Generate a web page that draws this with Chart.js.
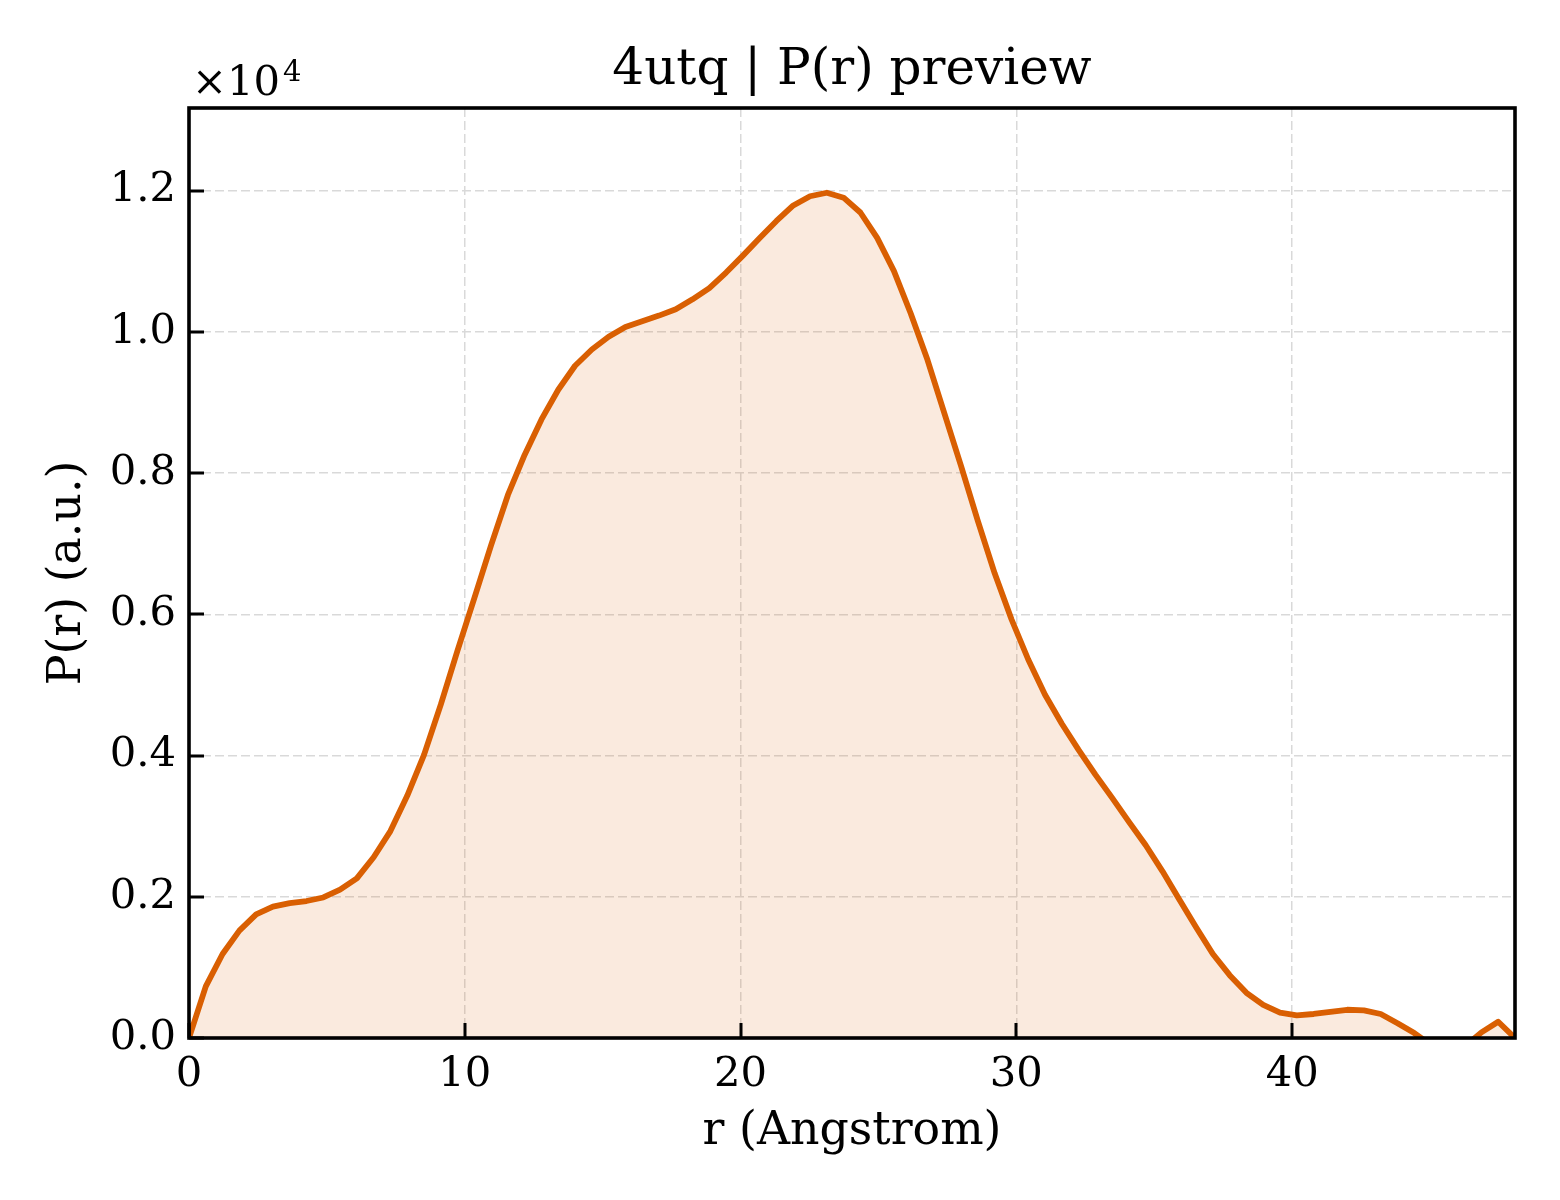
<!DOCTYPE html>
<html>
<head>
<meta charset="utf-8">
<script src="https://cdn.jsdelivr.net/npm/chart.js@4.4.1/dist/chart.umd.min.js"></script>
<style>
html,body{margin:0;padding:0;background:#fff;}
canvas{display:block;}
</style>
</head>
<body>
<canvas id="c" width="1560" height="1200"></canvas>
<script>
// r grid (Angstrom)
const rValues = [0, 0.609, 1.217, 1.826, 2.434, 3.043, 3.652, 4.260, 4.869, 5.477,
  6.086, 6.695, 7.303, 7.912, 8.521, 9.129, 9.738, 10.346, 10.955, 11.564,
  12.172, 12.781, 13.389, 13.998, 14.607, 15.215, 15.824, 16.432, 17.041, 17.650,
  18.258, 18.867, 19.475, 20.084, 20.693, 21.301, 21.910, 22.518, 23.127, 23.736,
  24.344, 24.953, 25.562, 26.170, 26.779, 27.387, 27.996, 28.605, 29.213, 29.822,
  30.430, 31.039, 31.648, 32.256, 32.865, 33.473, 34.082, 34.691, 35.299, 35.908,
  36.516, 37.125, 37.734, 38.342, 38.951, 39.559, 40.168, 40.777, 41.385, 41.994,
  42.603, 43.211, 43.820, 44.428, 45.037, 45.646, 46.254, 46.863, 47.471, 48.080];
// P(r) values (a.u.)
const prValues = [0, 730, 1190, 1520, 1750, 1860, 1910, 1940, 1990, 2100,
  2260, 2560, 2930, 3430, 4010, 4720, 5490, 6230, 6980, 7690,
  8260, 8760, 9180, 9520, 9750, 9930, 10070, 10150, 10230, 10320,
  10460, 10620, 10840, 11080, 11330, 11570, 11790, 11920, 11970, 11900,
  11690, 11330, 10860, 10260, 9600, 8850, 8100, 7320, 6580, 5930,
  5360, 4860, 4450, 4080, 3730, 3400, 3060, 2730, 2360, 1960,
  1570, 1190, 890, 640, 470, 360, 320, 340, 370, 400,
  390, 340, 210, 70, -100, -200, -120, 80, 230, 0];
const xTickValues = [0, 10, 20, 30, 40];
const yTickValues = [0, 2000, 4000, 6000, 8000, 10000, 12000];
const xMax = 48.08;
const yMax = 13170;

const titleText = '4utq | P(r) preview';
const xLabel = 'r (Angstrom)';
const yLabel = 'P(r) (a.u.)';
const FONT = '"DejaVu Serif", serif';

const decor = {
  id: 'decor',
  afterDraw(chart) {
    const ctx = chart.ctx;
    const a = chart.chartArea;
    const xs = chart.scales.x, ys = chart.scales.y;
    ctx.save();
    // inward ticks
    ctx.strokeStyle = '#000';
    ctx.lineWidth = 3;
    ctx.beginPath();
    xs.ticks.forEach(t => {
      const px = Math.round(xs.getPixelForValue(t.value));
      ctx.moveTo(px, a.bottom);
      ctx.lineTo(px, a.bottom - 15);
    });
    ys.ticks.forEach(t => {
      const py = Math.round(ys.getPixelForValue(t.value));
      ctx.moveTo(a.left, py);
      ctx.lineTo(a.left + 15, py);
    });
    ctx.stroke();
    // spines
    ctx.lineWidth = 3.6;
    ctx.strokeRect(a.left, a.top, a.right - a.left, a.bottom - a.top);
    // texts
    ctx.fillStyle = '#000';
    ctx.font = '50px ' + FONT;
    ctx.textAlign = 'center';
    ctx.textBaseline = 'alphabetic';
    ctx.fillText(titleText, (a.left + a.right) / 2, 84);
    ctx.font = '45.8px ' + FONT;
    ctx.textBaseline = 'middle';
    ctx.fillText(xLabel, (a.left + a.right) / 2, 1132);
    ctx.save();
    ctx.translate(68, (a.top + a.bottom) / 2);
    ctx.rotate(-Math.PI / 2);
    ctx.fillText(yLabel, 0, 0);
    ctx.restore();
    // offset text
    ctx.textAlign = 'left';
    ctx.textBaseline = 'alphabetic';
    ctx.font = '41.7px ' + FONT;
    ctx.fillText('×10', 192, 95);
    const w = ctx.measureText('×10').width;
    ctx.font = '29px ' + FONT;
    ctx.fillText('4', 192 + w + 3, 81);
    ctx.restore();
  }
};

new Chart(document.getElementById('c'), {
  type: 'line',
  data: {
    datasets: [{
      data: rValues.map((r, i) => ({x: r, y: prValues[i]})),
      borderColor: '#d95f02',
      backgroundColor: 'rgba(217,95,2,0.13)',
      borderWidth: 5.8,
      fill: 'origin',
      pointRadius: 0,
      tension: 0,
      borderJoinStyle: 'round'
    }]
  },
  options: {
    responsive: false,
    animation: false,
    devicePixelRatio: 1,
    layout: {padding: {left: 0, right: 45, top: 108, bottom: 102}},
    plugins: {legend: {display: false}, title: {display: false}, tooltip: {enabled: false}},
    scales: {
      x: {
        type: 'linear',
        min: 0, max: xMax,
        afterBuildTicks: s => { s.ticks = xTickValues.map(v => ({value: v})); },
        afterFit: s => { s.height = 60; },
        grid: {color: '#d9d9d9', lineWidth: 1.5, drawTicks: false},
        border: {display: false, dash: [9, 4]},
        ticks: {
          padding: 12, color: '#000',
          font: {family: 'DejaVu Serif', size: 41.7},
          maxRotation: 0,
          callback: v => String(v)
        }
      },
      y: {
        type: 'linear',
        min: 0, max: yMax,
        afterBuildTicks: s => { s.ticks = yTickValues.map(v => ({value: v})); },
        afterFit: s => { s.width = 189; },
        grid: {color: '#d9d9d9', lineWidth: 1.5, drawTicks: false},
        border: {display: false, dash: [9, 4]},
        ticks: {
          padding: 13, color: '#000',
          font: {family: 'DejaVu Serif', size: 41.7},
          callback: v => (v / 10000).toFixed(1)
        }
      }
    }
  },
  plugins: [decor]
});
</script>
</body>
</html>
